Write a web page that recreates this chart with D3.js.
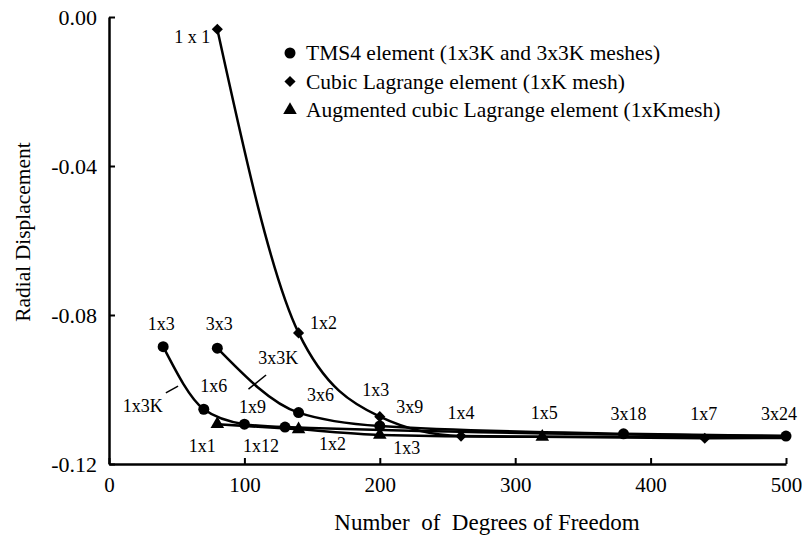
<!DOCTYPE html>
<html>
<head>
<meta charset="utf-8">
<script src="https://cdn.jsdelivr.net/npm/d3@7"></script>
<style>
  body { margin: 0; background: #fff; }
  text { font-family: "Liberation Serif", "Times New Roman", serif; fill: #000; }
</style>
</head>
<body>
<div id="chart"></div>
<script>
// values
var tmsFineDof = [40, 70, 100, 130];
var tmsFineVal = [-0.0885, -0.1053, -0.1093, -0.1101];
var tmsFineLab = ["1x3", "1x6", "1x9", "1x12"];

var tmsCoarseDof = [80, 140, 200, 380, 500];
var tmsCoarseVal = [-0.0889, -0.1062, -0.1098, -0.1119, -0.1125];
var tmsCoarseLab = ["3x3", "3x6", "3x9", "3x18", "3x24"];

var cubicDof = [80, 140, 200, 260, 440];
var cubicVal = [-0.0033, -0.0848, -0.1073, -0.1125, -0.1131];
var cubicLab = ["1 x 1", "1x2", "1x3", "1x4", "1x7"];

var augDof = [80, 140, 200, 320];
var augVal = [-0.1093, -0.1107, -0.1122, -0.1127];
var augLab = ["1x1", "1x2", "1x3", "1x5"];

// where the unmarked line ends run out to on the right
var tailDof = 500;
var tmsFineTail = -0.1125;
var cubicTail = -0.1130;
var augTail = -0.1127;

var xTicks = [0, 100, 200, 300, 400, 500];
var yTicks = [0, -0.04, -0.08, -0.12];

var legendNames = [
  "TMS4 element (1x3K and 3x3K meshes)",
  "Cubic Lagrange element (1xK mesh)",
  "Augmented cubic Lagrange element (1xKmesh)"
];

// label nudges in pixels (label centre / baseline relative to the point)
var tmsFineOff = [[-2, -17], [10, -17], [8, -11], [-24, 25]];
var tmsCoarseOff = [[2, -18], [22, -12], [30, -13], [5, -14], [-7, -16]];
var cubicOff = [[-25, 14], [25, -4], [-4, -21], [0, -17], [-1, -18]];
var augOff = [[-15, 28], [34, 21], [27, 19], [2, -18]];

var margin = {top: 17, right: 16, bottom: 74, left: 109},
    width = 802 - margin.left - margin.right,
    height = 538 - margin.top - margin.bottom;

var svg = d3.select("#chart")
    .append("svg")
    .attr("width", 802)
    .attr("height", 538)
    .append("g")
    .attr("transform", `translate(${margin.left},${margin.top})`);

var xScale = d3.scaleLinear().domain([0, 500]).range([0, width]);
var yScale = d3.scaleLinear().domain([-0.12, 0]).range([height, 0]);

function makeSeries(dof, val, lab, off) {
  return dof.map(function(d, i) {
    return {dof: d, val: val[i], lab: lab[i], off: off[i]};
  });
}

var series = [
  {pts: makeSeries(tmsFineDof, tmsFineVal, tmsFineLab, tmsFineOff), tail: tmsFineTail, sym: "circle"},
  {pts: makeSeries(tmsCoarseDof, tmsCoarseVal, tmsCoarseLab, tmsCoarseOff), tail: null, sym: "circle"},
  {pts: makeSeries(cubicDof, cubicVal, cubicLab, cubicOff), tail: cubicTail, sym: "diamond"},
  {pts: makeSeries(augDof, augVal, augLab, augOff), tail: augTail, sym: "triangle"}
];

// axes
var xAxis = svg.append("g")
    .attr("transform", `translate(0,${height})`)
    .call(d3.axisBottom(xScale).tickValues(xTicks).tickSize(-6).tickSizeOuter(0).tickPadding(13));
var yAxis = svg.append("g")
    .call(d3.axisLeft(yScale).tickValues(yTicks).tickSize(-6).tickSizeOuter(0).tickPadding(12)
      .tickFormat(function(d) { return d.toFixed(2); }));

[xAxis, yAxis].forEach(function(a) {
  a.select(".domain").attr("stroke-width", 2.5);
  a.selectAll(".tick line").attr("stroke-width", 2);
  a.selectAll(".tick text").attr("fill", "#000");
});
xAxis.selectAll(".tick text").style("font-size", "21px");
yAxis.selectAll(".tick text").style("font-size", "22px");

var line = d3.line()
    .x(function(d) { return xScale(d.dof); })
    .y(function(d) { return yScale(d.val); })
    .curve(d3.curveMonotoneX);

var symbols = {
  circle: {gen: d3.symbol().type(d3.symbolCircle).size(95), rot: 0},
  diamond: {gen: d3.symbol().type(d3.symbolSquare).size(62), rot: 45},
  triangle: {gen: d3.symbol().type(d3.symbolTriangle).size(80), rot: 0}
};

series.forEach(function(s) {
  var linePts = s.pts.slice();
  if (s.tail !== null) linePts.push({dof: tailDof, val: s.tail});
  svg.append("path")
      .datum(linePts)
      .attr("fill", "none")
      .attr("stroke", "#000")
      .attr("stroke-width", 2.5)
      .attr("d", line);
});

series.forEach(function(s) {
  var sym = symbols[s.sym];
  svg.selectAll(null)
      .data(s.pts)
      .enter()
      .append("path")
      .attr("transform", function(d) {
        return `translate(${xScale(d.dof)},${yScale(d.val)}) rotate(${sym.rot})`;
      })
      .attr("d", sym.gen)
      .attr("fill", "#000");

  svg.selectAll(null)
      .data(s.pts)
      .enter()
      .append("text")
      .attr("x", function(d) { return xScale(d.dof) + d.off[0]; })
      .attr("y", function(d) { return yScale(d.val) + d.off[1]; })
      .attr("text-anchor", "middle")
      .style("font-size", "18px")
      .text(function(d) { return d.lab; });
});

// mesh family call-outs, anchored in data space
var callouts = [
  {lab: "3x3K", from: [116, -0.0961], to: [103, -0.0999], tx: 125, ty: -0.0931},
  {lab: "1x3K", from: [42, -0.1009], to: [51, -0.0991], tx: 25, ty: -0.1061}
];
callouts.forEach(function(c) {
  svg.append("line")
      .attr("x1", xScale(c.from[0])).attr("y1", yScale(c.from[1]))
      .attr("x2", xScale(c.to[0])).attr("y2", yScale(c.to[1]))
      .attr("stroke", "#000").attr("stroke-width", 1.5);
  svg.append("text")
      .attr("x", xScale(c.tx)).attr("y", yScale(c.ty))
      .attr("text-anchor", "middle")
      .style("font-size", "18px")
      .text(c.lab);
});

// legend
var legend = svg.append("g").attr("transform", "translate(181,36)");
var legendSym = ["circle", "diamond", "triangle"];
legendNames.forEach(function(name, i) {
  var sym = symbols[legendSym[i]];
  legend.append("path")
      .attr("transform", `translate(0,${i * 28.5}) rotate(${sym.rot})`)
      .attr("d", sym.gen)
      .attr("fill", "#000");
  legend.append("text")
      .attr("x", 16)
      .attr("y", i * 28.5 + 7)
      .style("font-size", "21.5px")
      .text(name);
});

// axis titles
svg.append("text")
    .attr("x", 487 - margin.left)
    .attr("y", 530 - margin.top)
    .attr("text-anchor", "middle")
    .style("font-size", "23px")
    .style("white-space", "pre")
    .text("Number  of  Degrees of Freedom");

svg.append("text")
    .attr("transform", `translate(${30 - margin.left},${232 - margin.top}) rotate(-90)`)
    .attr("text-anchor", "middle")
    .style("font-size", "21.5px")
    .text("Radial Displacement");
</script>
</body>
</html>
